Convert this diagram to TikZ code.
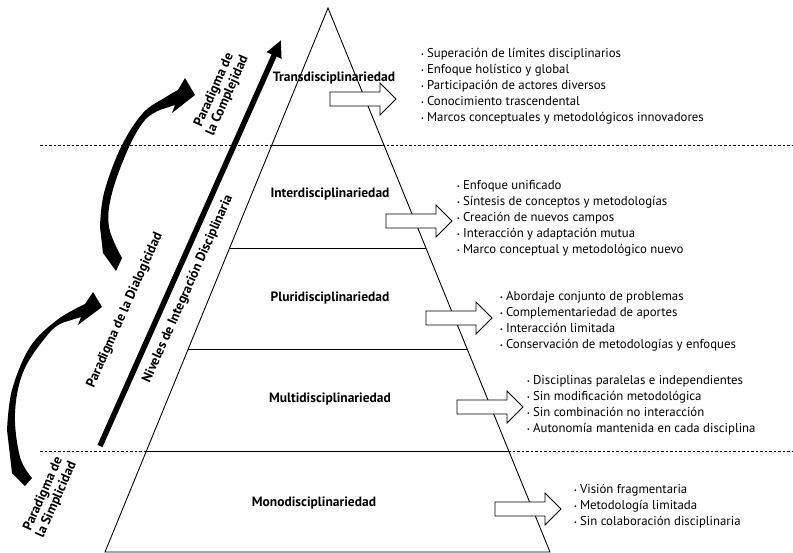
\documentclass[tikz,border=0pt]{standalone}
\usepackage{fontspec}
\setmainfont{PT Sans}
\usetikzlibrary{arrows.meta,calc}
\newcommand\bul{\raisebox{0.25ex}{\fontsize{6}{6}\selectfont\textbullet}\hspace{0.25em}}
\newcommand\blkarrow[2]{%
  \draw[blockarr] (#1,#2-7) -- ++(50,0) -- ++(0,-9) -- ++(16,16) -- ++(-16,16) -- ++(0,-9) -- ++(-50,0) -- cycle;}
\begin{document}
\begin{tikzpicture}[x=1pt,y=-1pt,
  level/.style={font=\fontsize{13.5}{15}\selectfont\bfseries, inner sep=0pt},
  blist/.style={font=\fontsize{12.8}{16}\selectfont, align=left, anchor=west, inner sep=0pt},
  side/.style={font=\fontsize{13.5}{14.5}\selectfont\bfseries, rotate=66, inner sep=0pt, align=center},
  pyr/.style={line width=0.9pt},
  divline/.style={line width=0.9pt, dash pattern=on 2.5pt off 2pt},
  blockarr/.style={draw, fill=white, line width=0.9pt, line join=miter},
  swoosh/.style={fill=black, draw=none}]
\useasboundingbox (0,0) rectangle (793,553);
% dashed paradigm separators
\coordinate (d1a) at (40,145); \coordinate (d1b) at (793,145);
\coordinate (d2a) at (40,451); \coordinate (d2b) at (793,451);
\draw[divline] (d1a) -- (d1b);
\draw[divline] (d2a) -- (d2b);
% pyramid
\coordinate (apex) at (328,8);
\coordinate (bl) at (105,552);
\coordinate (br) at (550,552);
\draw[pyr, line join=miter] (bl) -- (apex) -- (br) -- cycle;
\foreach \t in {0.2518,0.4412,0.6268,0.8143}
  \draw[pyr] ($(apex)!\t!(bl)$) -- ($(apex)!\t!(br)$);
% level labels
\node[level] (trans) at (334,78) {Transdisciplinariedad};
\node[level] (inter) at (330,194) {Interdisciplinariedad};
\node[level] (pluri) at (330,298) {Pluridisciplinariedad};
\node[level] (multi) at (330,399) {Multidisciplinariedad};
\node[level] (mono) at (314,503) {Monodisciplinariedad};
% block arrows
\blkarrow{330}{99}
\blkarrow{386}{221}
\blkarrow{426}{318}
\blkarrow{457}{407}
\blkarrow{495}{509}
% lists
\node[blist] (ltrans) at (421,86.5) {\bul Superación de límites disciplinarios\\\bul Enfoque holístico y global\\\bul Participación de actores diversos\\\bul Conocimiento trascendental\\\bul Marcos conceptuales y metodológicos innovadores};
\node[blist] (linter) at (457,218.5) {\bul Enfoque unificado\\\bul Síntesis de conceptos y metodologías\\\bul Creación de nuevos campos\\\bul Interacción y adaptación mutua\\\bul Marco conceptual y metodológico nuevo};
\node[blist] (lpluri) at (500,321.5) {\bul Abordaje conjunto de problemas\\\bul Complementariedad de aportes\\\bul Interacción limitada\\\bul Conservación de metodologías y enfoques};
\node[blist] (lmulti) at (527,405.5) {\bul Disciplinas paralelas e independientes\\\bul Sin modificación metodológica\\\bul Sin combinación no interacción\\\bul Autonomía mantenida en cada disciplina};
\node[blist] (lmono) at (574,506.5) {\bul Visión fragmentaria\\\bul Metodología limitada\\\bul Sin colaboración disciplinaria};
% main integration arrow
\coordinate (arrS) at (100,446);
\coordinate (arrE) at (281,40);
\draw[line width=5.5pt, -{Triangle[length=17pt,width=15pt]}] (arrS) -- (arrE);
\node[side] (niveles) at (188,289) {Niveles de Integración Disciplinaria};
\node[side] (dialog) at (125,310) {Paradigma de la Dialogicidad};
\node[side] (complej) at (221,93) {Paradigma de\\la Complejidad};
\node[side] (simpl) at (50,497) {Paradigma de\\la Simplicidad};
% upper swoosh
\fill[swoosh] (103,253) -- plot[smooth, tension=0.6] coordinates {(100,227) (104,193) (121,147) (143,113) (166,97) (178,90)}
  -- (185,78) -- (195,95) -- (172,113) -- (175,105)
  -- plot[smooth, tension=0.6] coordinates {(160,110) (145,120) (129,147) (112,193) (109,227) (122,258)} -- (116,271) -- cycle;
% lower swoosh
\fill[swoosh] (12,473) -- plot[smooth, tension=0.6] coordinates {(7,430) (12,390) (30,347) (57,320) (85,304)}
  -- (93,292) -- (102,307) -- (78,325) -- (81,317)
  -- plot[smooth, tension=0.6] coordinates {(65,322) (50,332) (24,370) (15,413) (20,457) (32,478)} -- (25,486) -- cycle;
\end{tikzpicture}
\end{document}
